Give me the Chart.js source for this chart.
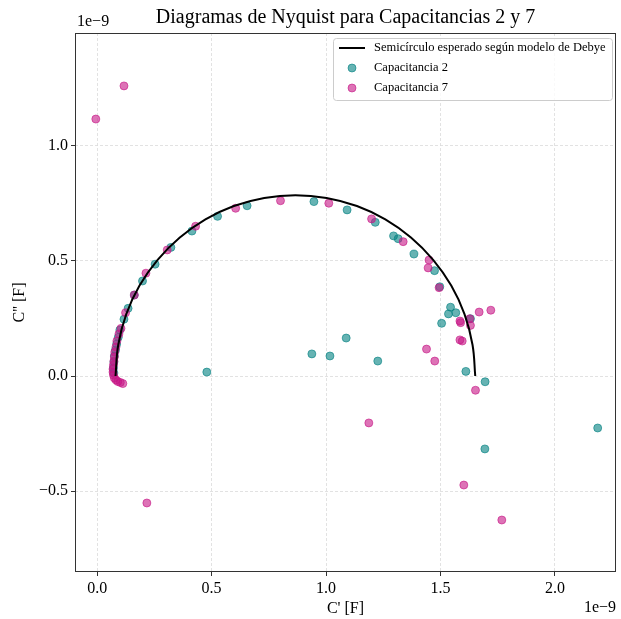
<!DOCTYPE html>
<html>
<head>
<meta charset="utf-8">
<script src="https://cdn.jsdelivr.net/npm/chart.js@4"></script>
<style>
  html, body { margin: 0; padding: 0; background: #fff; }
  #wrap { width: 621px; height: 619px; }
</style>
</head>
<body>
<div id="wrap"><canvas id="nyquist" width="621" height="619"></canvas></div>
<script>
// valeurs en unites de 1e-9 F
const debyeReal = [0.080, 0.092, 0.127, 0.185, 0.264, 0.361, 0.473, 0.597, 0.730, 0.866, 1.002, 1.135, 1.259, 1.371, 1.468, 1.547, 1.605, 1.640, 1.652];
const debyeImag = [0.000, 0.136, 0.269, 0.393, 0.505, 0.602, 0.681, 0.739, 0.774, 0.786, 0.774, 0.739, 0.681, 0.602, 0.505, 0.393, 0.269, 0.136, 0.000];

const cap2Real = [0.073, 0.071, 0.073, 0.075, 0.080, 0.085, 0.092, 0.099, 0.117, 0.135, 0.162, 0.198, 0.253, 0.322, 0.414, 0.526, 0.655, 0.947, 1.092, 1.215, 1.295, 1.315, 1.384, 1.474, 1.497, 1.544, 1.535, 1.567, 1.505, 1.631, 1.611, 1.695, 1.694, 2.187, 0.479, 0.938, 1.017, 1.088, 1.226];
const cap2Imag = [0.013, 0.035, 0.061, 0.087, 0.113, 0.139, 0.168, 0.200, 0.247, 0.294, 0.352, 0.413, 0.486, 0.559, 0.630, 0.694, 0.740, 0.758, 0.722, 0.668, 0.609, 0.597, 0.530, 0.458, 0.388, 0.299, 0.270, 0.275, 0.229, 0.249, 0.020, -0.025, -0.317, -0.226, 0.017, 0.096, 0.087, 0.165, 0.065];

const cap7Real = [0.112, 0.101, 0.090, 0.082, 0.075, 0.071, 0.069, 0.069, 0.071, 0.073, 0.075, 0.077, 0.082, 0.086, 0.095, 0.104, 0.124, 0.162, 0.213, 0.306, 0.430, 0.605, 0.801, 1.012, 1.199, 1.337, 1.450, 1.446, 1.494, 1.720, 1.669, 1.631, 1.628, 1.588, 1.585, 1.595, 1.585, 1.439, 1.475, 1.653, 1.768, 1.602, 1.187, 0.217, -0.006, 0.117];
const cap7Imag = [-0.033, -0.028, -0.024, -0.017, -0.009, 0.004, 0.017, 0.030, 0.048, 0.065, 0.083, 0.104, 0.126, 0.152, 0.183, 0.207, 0.275, 0.352, 0.447, 0.548, 0.651, 0.729, 0.762, 0.751, 0.683, 0.584, 0.504, 0.470, 0.384, 0.286, 0.278, 0.220, 0.249, 0.232, 0.239, 0.152, 0.157, 0.117, 0.065, -0.062, -0.626, -0.474, -0.204, -0.552, 1.117, 1.261];

const xTicks = [0.0, 0.5, 1.0, 1.5, 2.0];
const yTicks = [-0.5, 0.0, 0.5, 1.0];

const titre = 'Diagramas de Nyquist para Capacitancias 2 y 7';
const labelDebye = 'Semicírculo esperado según modelo de Debye';
const labelCap2 = 'Capacitancia 2';
const labelCap7 = 'Capacitancia 7';

const tealCol = 'rgba(0, 128, 128, 0.6)';
const pinkCol = 'rgba(199, 21, 133, 0.6)';
const serif = '"Liberation Serif", "DejaVu Serif", serif';

function pts(xs, ys) {
    return xs.map((x, i) => ({ x: x, y: ys[i] }));
}
function fmt(v) {
    return v.toFixed(1).replace('-', '\u2212');
}

// cadre, titre, 1e-9 et legende dessines a la main
const decor = {
    id: 'decor',
    afterDraw(chart) {
        const c = chart.ctx;
        const a = chart.chartArea;
        c.save();
        c.strokeStyle = '#333';
        c.lineWidth = 1;
        c.strokeRect(Math.round(a.left) + 0.5, Math.round(a.top) + 0.5, Math.round(a.right - a.left) - 1, Math.round(a.bottom - a.top) - 1);

        c.fillStyle = '#000';
        c.font = '20px ' + serif;
        c.textAlign = 'center';
        c.textBaseline = 'middle';
        c.fillText(titre, (a.left + a.right) / 2, 18);

        c.font = '16px ' + serif;
        c.textAlign = 'left';
        c.fillText('1e\u22129', a.left + 2, 22);
        c.textAlign = 'right';
        c.fillText('1e\u22129', a.right, 608);

        // legende
        const lx = 333, ly = 38, lw = 279, lh = 62;
        c.beginPath();
        c.roundRect(lx + 0.5, ly + 0.5, lw, lh, 3);
        c.fillStyle = 'rgba(255,255,255,0.8)';
        c.fill();
        c.strokeStyle = '#cccccc';
        c.lineWidth = 1;
        c.stroke();

        c.strokeStyle = '#000';
        c.lineWidth = 2;
        c.beginPath();
        c.moveTo(339, 48);
        c.lineTo(365, 48);
        c.stroke();

        c.lineWidth = 1;
        [[68, tealCol], [88, pinkCol]].forEach(([yy, col]) => {
            c.beginPath();
            c.arc(352, yy, 4, 0, Math.PI * 2);
            c.fillStyle = col;
            c.strokeStyle = col;
            c.fill();
            c.stroke();
        });

        c.fillStyle = '#000';
        c.font = '12.5px ' + serif;
        c.textAlign = 'left';
        c.textBaseline = 'middle';
        c.fillText(labelDebye, 374, 48);
        c.fillText(labelCap2, 374, 68);
        c.fillText(labelCap7, 374, 88);
        c.restore();
    }
};

const axeCommun = {
    type: 'linear',
    grid: { color: '#dadada', lineWidth: 0.8, tickColor: '#333', tickLength: 4, tickWidth: 1 },
    border: { display: false, dash: [3, 2] },
    ticks: { color: '#000', font: { family: serif, size: 16 }, padding: 3, callback: v => fmt(v) }
};

const Graph = document.getElementById('nyquist').getContext('2d');
const chart = new Chart(Graph, {
    type: 'scatter',
    data: {
        datasets: [
            {
                label: labelDebye,
                data: pts(debyeReal, debyeImag),
                showLine: true,
                borderColor: '#000',
                borderWidth: 2,
                pointRadius: 0,
                tension: 0.4,
                fill: false,
                order: 0
            },
            {
                label: labelCap2,
                data: pts(cap2Real, cap2Imag),
                backgroundColor: tealCol,
                borderColor: tealCol,
                borderWidth: 1,
                pointRadius: 4,
                order: 2
            },
            {
                label: labelCap7,
                data: pts(cap7Real, cap7Imag),
                backgroundColor: pinkCol,
                borderColor: pinkCol,
                borderWidth: 1,
                pointRadius: 4,
                order: 1
            }
        ]
    },
    options: {
        animation: false,
        responsive: false,
        layout: { padding: { top: 33, right: 5, left: 0, bottom: 0 } },
        plugins: {
            legend: { display: false },
            tooltip: { enabled: false }
        },
        scales: {
            x: Object.assign({}, axeCommun, {
                min: -0.097,
                max: 2.267,
                afterBuildTicks: s => { s.ticks = xTicks.map(v => ({ value: v })); },
                afterFit: s => { s.height = 47; },
                title: { display: true, text: "C' [F]", color: '#000', font: { family: serif, size: 16 }, padding: { top: 0, bottom: 1 } }
            }),
            y: Object.assign({}, axeCommun, {
                min: -0.852,
                max: 1.491,
                afterBuildTicks: s => { s.ticks = yTicks.map(v => ({ value: v })); },
                afterFit: s => { s.width = 75; },
                title: { display: true, text: "C'' [F]", color: '#000', font: { family: serif, size: 16 }, padding: { top: 10, bottom: 0 } }
            })
        }
    },
    plugins: [decor]
});
</script>
</body>
</html>
